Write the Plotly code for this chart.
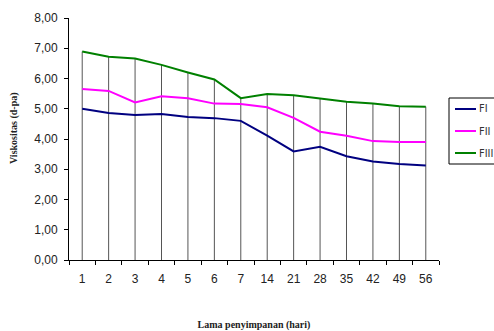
import plotly.graph_objects as go

days = ["1", "2", "3", "4", "5", "6", "7", "14", "21", "28", "35", "42", "49", "56"]
fi = [5.00, 4.86, 4.79, 4.83, 4.73, 4.69, 4.60, 4.11, 3.59, 3.74, 3.43, 3.26, 3.17, 3.12]
fii = [5.65, 5.59, 5.21, 5.41, 5.35, 5.17, 5.16, 5.05, 4.70, 4.24, 4.11, 3.93, 3.90, 3.90]
fiii = [6.89, 6.72, 6.66, 6.45, 6.20, 5.97, 5.35, 5.49, 5.45, 5.35, 5.23, 5.17, 5.08, 5.07]

series = [("FI", fi, "#000080"), ("FII", fii, "#FF00FF"), ("FIII", fiii, "#008000")]

W, H = 494, 331
L, R, T, B = 69, 55, 18, 71
PW, PH = W - L - R, H - T - B


def px(x):
    return (x - L) / PW


def py(y):
    return (H - B - y) / PH


# drop lines from the highest series down to the axis
dx, dy = [], []
for d, a, b, c in zip(days, fi, fii, fiii):
    dx += [d, d, None]
    dy += [0, max(a, b, c), None]

fig = go.Figure()
fig.add_trace(go.Scatter(x=dx, y=dy, mode="lines", line=dict(color="#555555", width=1),
                         showlegend=False, hoverinfo="skip"))
for name, vals, col in series:
    fig.add_trace(go.Scatter(x=days, y=vals, mode="lines", name=name,
                             line=dict(color=col, width=2), showlegend=False))

# legend box drawn by hand (the original's box runs past the right edge)
shapes = [dict(type="rect", xref="paper", yref="paper", x0=px(449), x1=px(520),
               y0=py(164), y1=py(98), line=dict(color="black", width=1),
               fillcolor="white", layer="above")]
annotations = []
for (name, vals, col), ly in zip(series, [109, 131, 153]):
    shapes.append(dict(type="line", xref="paper", yref="paper", x0=px(455), x1=px(476),
                       y0=py(ly), y1=py(ly), line=dict(color=col, width=2), layer="above"))
    annotations.append(dict(xref="paper", yref="paper", x=px(477), y=py(ly), text=name,
                            showarrow=False, xanchor="left", yanchor="middle",
                            font=dict(family="DejaVu Sans Condensed, Liberation Sans",
                                      size=11, color="#333333")))

annotations.append(dict(xref="paper", yref="paper", x=px(14), y=py(128),
                        text="<b>Viskositas (d-pa)</b>", textangle=-90, showarrow=False,
                        xanchor="center", yanchor="middle",
                        font=dict(family="Liberation Serif, Times New Roman", size=10,
                                  color="#222222")))

fig.update_layout(
    width=W, height=H,
    margin=dict(l=L, r=R, t=T, b=B, autoexpand=False),
    paper_bgcolor="white", plot_bgcolor="white",
    separators=",.",
    font=dict(family="Liberation Sans, Arial", size=12, color="#222222"),
    shapes=shapes, annotations=annotations,
    xaxis=dict(type="category", categoryorder="array", categoryarray=days,
               range=[-0.5, 13.5], showline=True, linecolor="black", linewidth=1,
               ticks="outside", ticklen=4, tickcolor="black", tickson="boundaries",
               ticklabelstandoff=8, automargin=False,
               showgrid=False, zeroline=False,
               title=dict(text="<b>Lama penyimpanan (hari)</b>", standoff=44,
                          font=dict(family="Liberation Serif, Times New Roman", size=10))),
    yaxis=dict(range=[0, 8], dtick=1, tickformat=".2f", showline=True, linecolor="black",
               linewidth=1, ticks="outside", ticklen=4, tickcolor="black",
               ticklabelstandoff=4, automargin=False,
               showgrid=False, zeroline=False),
)

fig.write_html("out.html", config={"displayModeBar": False},
               post_script="document.body.style.margin='0';")
